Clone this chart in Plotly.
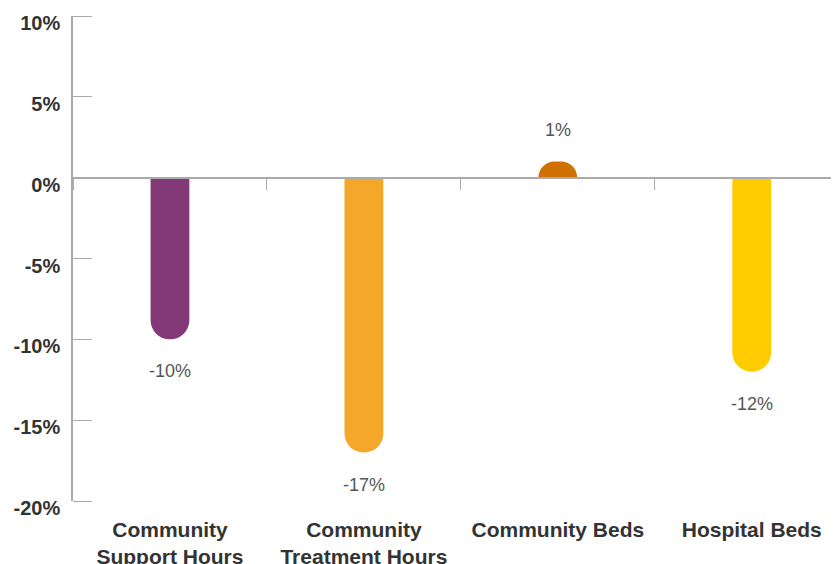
import plotly.graph_objects as go

categories = ["Community<br>Support Hours", "Community<br>Treatment Hours", "Community Beds", "Hospital Beds"]
values = [-10, -17, 1, -12]
labels = ["-10%", "-17%", "1%", "-12%"]
colors = ["#833878", "#F5A72A", "#D07000", "#FFCC00"]
y_ticks = [-20, -15, -10, -5, 0, 5, 10]
y_ticktext = ["-20%", "-15%", "-10%", "-5%", "0%", "5%", "10%"]

FONT = "Liberation Sans, Arial, sans-serif"
GRAY = "#aaaaaa"

fig = go.Figure()
fig.add_trace(go.Bar(x=categories, y=values, marker=dict(color=colors, line=dict(width=0)),
                     width=0.2, hoverinfo="skip"))
# invisible traces for the overlay axes
fig.add_trace(go.Scatter(x=categories, y=values, xaxis="x2", mode="markers",
                         marker=dict(opacity=0), hoverinfo="skip", showlegend=False))
fig.add_trace(go.Scatter(x=categories, y=values, yaxis="y2", mode="markers",
                         marker=dict(opacity=0), hoverinfo="skip", showlegend=False))

for c, v, t in zip(categories, values, labels):
    fig.add_annotation(x=c, y=v, text=t, showarrow=False,
                       yshift=(32 if v > 0 else -32),
                       font=dict(family=FONT, size=18, color="#555555"))

# page body has an 8px default margin, so the figure is sized to the remaining area
fig.update_layout(
    width=831, height=556,
    margin=dict(l=65, r=0, t=8, b=63, autoexpand=False),
    plot_bgcolor="white", paper_bgcolor="white",
    showlegend=False,
    barcornerradius="50%",
    xaxis=dict(range=[-0.5, 3.45], showline=False, ticks="", showgrid=False, zeroline=False,
               automargin=False, ticklabeloverflow="allow",
               tickfont=dict(family=FONT, size=21, color="#333333", weight="bold"),
               ticklabelstandoff=14),
    xaxis2=dict(overlaying="x", anchor="free", position=2/3, matches="x",
                showline=True, linecolor=GRAY, linewidth=1.5, automargin=False,
                ticks="outside", tickson="boundaries", ticklen=12, tickcolor=GRAY, tickwidth=1,
                showticklabels=False, showgrid=False, zeroline=False),
    yaxis=dict(range=[-20, 10], tickvals=y_ticks, ticktext=y_ticktext,
               showline=True, linecolor=GRAY, linewidth=1.5, automargin=False,
               ticks="", showgrid=False, zeroline=False, ticklabeloverflow="allow",
               tickfont=dict(family=FONT, size=20, color="#333333", weight="bold"),
               ticklabelstandoff=7, ticklabelshift=7),
    yaxis2=dict(overlaying="y", matches="y", anchor="free", side="left", position=19/766,
                tickvals=y_ticks, showticklabels=False, showline=False, showgrid=False,
                zeroline=False, automargin=False,
                ticks="outside", ticklen=19, tickcolor=GRAY, tickwidth=1),
)

fig.write_html("out.html")
